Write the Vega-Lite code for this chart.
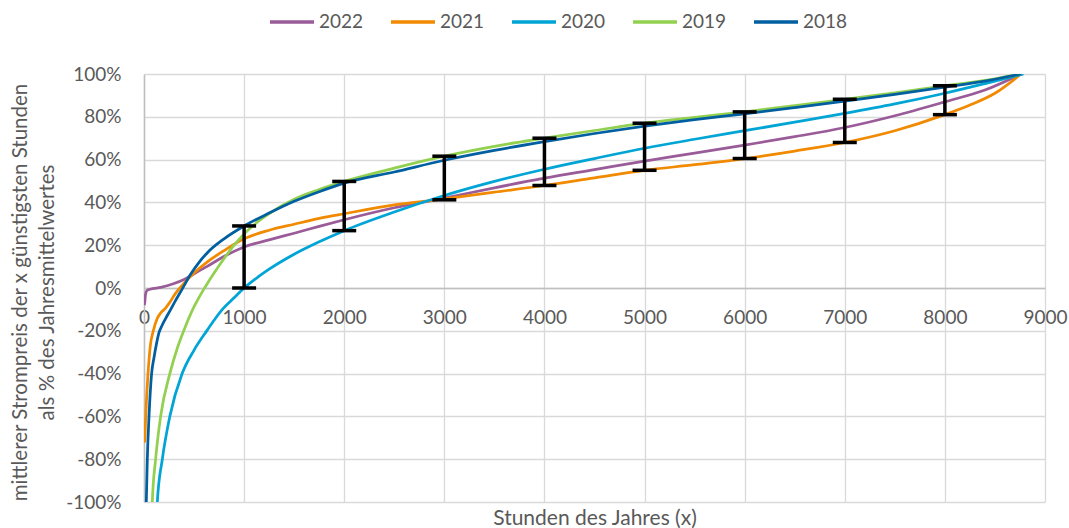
{
  "$schema": "https://vega.github.io/schema/vega-lite/v6.json",
  "width": 901,
  "height": 428,
  "autosize": {"type": "none"},
  "padding": {"left": 144, "top": 74, "right": 24, "bottom": 26},
  "background": "white",
  "config": {
    "view": {"stroke": null},
    "font": "Lato",
    "axis": {"labelFont": "Lato", "titleFont": "Lato"},
    "legend": {"labelFont": "Lato"}
  },
  "datasets": {
    "curves": [
      {"year": "2022", "x": 0, "y": -8}, {"year": "2022", "x": 7, "y": -7}, {"year": "2022", "x": 15, "y": -3}, {"year": "2022", "x": 30, "y": -1.2}, {"year": "2022", "x": 60, "y": -0.6}, {"year": "2022", "x": 167, "y": 0.3}, {"year": "2022", "x": 293, "y": 2}, {"year": "2022", "x": 400, "y": 4}, {"year": "2022", "x": 460, "y": 5.5}, {"year": "2022", "x": 550, "y": 8}, {"year": "2022", "x": 627, "y": 10}, {"year": "2022", "x": 793, "y": 14.6}, {"year": "2022", "x": 1000, "y": 19.2}, {"year": "2022", "x": 1250, "y": 22.5}, {"year": "2022", "x": 1500, "y": 25.6}, {"year": "2022", "x": 1750, "y": 28.8}, {"year": "2022", "x": 2000, "y": 31.9}, {"year": "2022", "x": 2500, "y": 37.5}, {"year": "2022", "x": 3000, "y": 42}, {"year": "2022", "x": 3500, "y": 46.8}, {"year": "2022", "x": 4000, "y": 51.3}, {"year": "2022", "x": 4500, "y": 55.3}, {"year": "2022", "x": 5000, "y": 59.3}, {"year": "2022", "x": 5500, "y": 63}, {"year": "2022", "x": 6000, "y": 66.8}, {"year": "2022", "x": 6500, "y": 70.7}, {"year": "2022", "x": 7000, "y": 75}, {"year": "2022", "x": 7500, "y": 80.5}, {"year": "2022", "x": 8000, "y": 87}, {"year": "2022", "x": 8400, "y": 92.5}, {"year": "2022", "x": 8760, "y": 100},
      {"year": "2021", "x": 0, "y": -72}, {"year": "2021", "x": 7, "y": -71.5}, {"year": "2021", "x": 17, "y": -60}, {"year": "2021", "x": 40, "y": -40}, {"year": "2021", "x": 63, "y": -27}, {"year": "2021", "x": 93, "y": -20}, {"year": "2021", "x": 130, "y": -14.5}, {"year": "2021", "x": 166, "y": -11.7}, {"year": "2021", "x": 213, "y": -9.5}, {"year": "2021", "x": 260, "y": -6.5}, {"year": "2021", "x": 315, "y": -2.5}, {"year": "2021", "x": 400, "y": 2.2}, {"year": "2021", "x": 500, "y": 7}, {"year": "2021", "x": 633, "y": 12.2}, {"year": "2021", "x": 800, "y": 17.5}, {"year": "2021", "x": 1000, "y": 23}, {"year": "2021", "x": 1250, "y": 27}, {"year": "2021", "x": 1500, "y": 29.8}, {"year": "2021", "x": 1750, "y": 32.5}, {"year": "2021", "x": 2000, "y": 34.7}, {"year": "2021", "x": 2500, "y": 38.8}, {"year": "2021", "x": 3000, "y": 41.6}, {"year": "2021", "x": 3500, "y": 44.8}, {"year": "2021", "x": 4000, "y": 47.9}, {"year": "2021", "x": 4500, "y": 51.5}, {"year": "2021", "x": 5000, "y": 55}, {"year": "2021", "x": 5500, "y": 57.6}, {"year": "2021", "x": 6000, "y": 60.5}, {"year": "2021", "x": 6500, "y": 64}, {"year": "2021", "x": 7000, "y": 68}, {"year": "2021", "x": 7500, "y": 73.5}, {"year": "2021", "x": 8000, "y": 81}, {"year": "2021", "x": 8250, "y": 85.5}, {"year": "2021", "x": 8500, "y": 91}, {"year": "2021", "x": 8760, "y": 100},
      {"year": "2020", "x": 120, "y": -118}, {"year": "2020", "x": 133, "y": -100}, {"year": "2020", "x": 183, "y": -80}, {"year": "2020", "x": 258, "y": -60}, {"year": "2020", "x": 381, "y": -40}, {"year": "2020", "x": 500, "y": -29}, {"year": "2020", "x": 630, "y": -19.8}, {"year": "2020", "x": 783, "y": -10}, {"year": "2020", "x": 900, "y": -4.6}, {"year": "2020", "x": 1000, "y": 0}, {"year": "2020", "x": 1143, "y": 5.3}, {"year": "2020", "x": 1250, "y": 8.8}, {"year": "2020", "x": 1500, "y": 15.8}, {"year": "2020", "x": 1750, "y": 21.6}, {"year": "2020", "x": 2000, "y": 26.8}, {"year": "2020", "x": 2500, "y": 35.5}, {"year": "2020", "x": 3000, "y": 43.2}, {"year": "2020", "x": 3500, "y": 49.8}, {"year": "2020", "x": 4000, "y": 55.5}, {"year": "2020", "x": 4500, "y": 60.5}, {"year": "2020", "x": 5000, "y": 65.3}, {"year": "2020", "x": 5500, "y": 69.5}, {"year": "2020", "x": 6000, "y": 73.5}, {"year": "2020", "x": 6500, "y": 77.5}, {"year": "2020", "x": 7000, "y": 81.6}, {"year": "2020", "x": 7500, "y": 86}, {"year": "2020", "x": 8000, "y": 91}, {"year": "2020", "x": 8400, "y": 95.5}, {"year": "2020", "x": 8784, "y": 100},
      {"year": "2019", "x": 72, "y": -118}, {"year": "2019", "x": 83, "y": -100}, {"year": "2019", "x": 116, "y": -80}, {"year": "2019", "x": 166, "y": -60}, {"year": "2019", "x": 258, "y": -40}, {"year": "2019", "x": 330, "y": -28.5}, {"year": "2019", "x": 397, "y": -20}, {"year": "2019", "x": 487, "y": -10}, {"year": "2019", "x": 547, "y": -4.6}, {"year": "2019", "x": 613, "y": 0.6}, {"year": "2019", "x": 700, "y": 7}, {"year": "2019", "x": 800, "y": 13.8}, {"year": "2019", "x": 900, "y": 20}, {"year": "2019", "x": 1000, "y": 25.3}, {"year": "2019", "x": 1143, "y": 31.2}, {"year": "2019", "x": 1250, "y": 34.8}, {"year": "2019", "x": 1500, "y": 41.5}, {"year": "2019", "x": 1750, "y": 46}, {"year": "2019", "x": 2000, "y": 49.8}, {"year": "2019", "x": 2500, "y": 56}, {"year": "2019", "x": 3000, "y": 61.6}, {"year": "2019", "x": 3500, "y": 66.2}, {"year": "2019", "x": 4000, "y": 70}, {"year": "2019", "x": 4500, "y": 73.6}, {"year": "2019", "x": 5000, "y": 77}, {"year": "2019", "x": 5500, "y": 79.7}, {"year": "2019", "x": 6000, "y": 82.3}, {"year": "2019", "x": 6500, "y": 85.2}, {"year": "2019", "x": 7000, "y": 88.2}, {"year": "2019", "x": 7500, "y": 91.2}, {"year": "2019", "x": 8000, "y": 94.5}, {"year": "2019", "x": 8400, "y": 97}, {"year": "2019", "x": 8760, "y": 100},
      {"year": "2018", "x": 15, "y": -118}, {"year": "2018", "x": 23, "y": -100}, {"year": "2018", "x": 33, "y": -80}, {"year": "2018", "x": 50, "y": -60}, {"year": "2018", "x": 76, "y": -40}, {"year": "2018", "x": 100, "y": -32.5}, {"year": "2018", "x": 125, "y": -26}, {"year": "2018", "x": 149, "y": -21}, {"year": "2018", "x": 180, "y": -17.5}, {"year": "2018", "x": 213, "y": -14.5}, {"year": "2018", "x": 267, "y": -10}, {"year": "2018", "x": 313, "y": -6}, {"year": "2018", "x": 381, "y": -0.5}, {"year": "2018", "x": 467, "y": 6.5}, {"year": "2018", "x": 550, "y": 12}, {"year": "2018", "x": 633, "y": 16.5}, {"year": "2018", "x": 800, "y": 23}, {"year": "2018", "x": 1000, "y": 29}, {"year": "2018", "x": 1250, "y": 35}, {"year": "2018", "x": 1500, "y": 40.5}, {"year": "2018", "x": 1750, "y": 45}, {"year": "2018", "x": 2000, "y": 49}, {"year": "2018", "x": 2500, "y": 54.2}, {"year": "2018", "x": 3000, "y": 59.7}, {"year": "2018", "x": 3500, "y": 64.3}, {"year": "2018", "x": 4000, "y": 68.4}, {"year": "2018", "x": 4500, "y": 72.2}, {"year": "2018", "x": 5000, "y": 75.6}, {"year": "2018", "x": 5500, "y": 78.7}, {"year": "2018", "x": 6000, "y": 81.4}, {"year": "2018", "x": 6500, "y": 84.3}, {"year": "2018", "x": 7000, "y": 87.3}, {"year": "2018", "x": 7500, "y": 90.5}, {"year": "2018", "x": 8000, "y": 93.9}, {"year": "2018", "x": 8400, "y": 96.7}, {"year": "2018", "x": 8760, "y": 100}
    ],
    "bars": [
      {"x": 1000, "lo": 0, "hi": 29},
      {"x": 2000, "lo": 26.8, "hi": 49.8},
      {"x": 3000, "lo": 41.2, "hi": 61.6},
      {"x": 4000, "lo": 47.9, "hi": 70},
      {"x": 5000, "lo": 55, "hi": 77},
      {"x": 6000, "lo": 60.5, "hi": 82.3},
      {"x": 7000, "lo": 68, "hi": 88.2},
      {"x": 8000, "lo": 81, "hi": 94.5}
    ]
  },
  "layer": [
    {
      "data": {"name": "curves"},
      "mark": {"type": "line", "strokeWidth": 2.75, "interpolate": "monotone", "clip": true},
      "encoding": {
        "x": {
          "field": "x", "type": "quantitative",
          "scale": {"domain": [0, 9000], "nice": false},
          "axis": {
            "values": [0, 1000, 2000, 3000, 4000, 5000, 6000, 7000, 8000, 9000],
            "format": "d", "offset": -214, "grid": true, "gridColor": "#d9d9d9", "gridWidth": 1.3,
            "domainColor": "#bfbfbf", "domainWidth": 1.5, "ticks": false,
            "labelFontSize": 19, "labelColor": "#595959", "labelPadding": 20,
            "labelFlush": false, "labelOverlap": false, "labelBound": false,
            "title": "Stunden des Jahres (x)", "titleFontSize": 21, "titleFontWeight": "normal",
            "titleColor": "#595959", "titleY": 236, "titleBaseline": "alphabetic"
          }
        },
        "y": {
          "field": "y", "type": "quantitative",
          "scale": {"domain": [-100, 100], "nice": false},
          "axis": {
            "values": [-100, -80, -60, -40, -20, 0, 20, 40, 60, 80, 100],
            "labelExpr": "datum.value + '%'", "grid": true, "gridColor": "#d9d9d9", "gridWidth": 1.3,
            "domainColor": "#bfbfbf", "domainWidth": 1.5, "ticks": false,
            "labelFontSize": 19, "labelColor": "#595959", "labelPadding": 23,
            "labelFlush": false, "labelOverlap": false, "labelBound": false,
            "title": ["mittlerer Strompreis  der x günstigsten Stunden", "als % des Jahresmittelwertes"],
            "titleFontSize": 20.5, "titleFontWeight": "normal", "titleColor": "#595959",
            "titleLineHeight": 27, "titleX": -124, "titleY": 218, "titleAngle": -90,
            "titleAlign": "center", "titleBaseline": "middle"
          }
        },
        "color": {
          "field": "year", "type": "nominal",
          "scale": {"domain": ["2022", "2021", "2020", "2019", "2018"], "range": ["#9A5B99", "#F18A00", "#00A5D6", "#92D050", "#005FA0"]},
          "legend": {
            "orient": "none", "legendX": 124, "legendY": -76, "direction": "horizontal", "title": null,
            "symbolType": "stroke", "symbolSize": 1936, "symbolStrokeWidth": 3.5,
            "labelFontSize": 19, "labelColor": "#595959", "labelOffset": 3, "columnPadding": 20, "padding": 0
          }
        }
      }
    },
    {
      "data": {"name": "bars"},
      "mark": {"type": "rule", "color": "black", "strokeWidth": 3.5},
      "encoding": {
        "x": {"field": "x", "type": "quantitative"},
        "y": {"field": "lo", "type": "quantitative"},
        "y2": {"field": "hi"}
      }
    },
    {
      "data": {"name": "bars"},
      "mark": {"type": "tick", "orient": "horizontal", "color": "black", "size": 24, "thickness": 3.5, "opacity": 1},
      "encoding": {
        "x": {"field": "x", "type": "quantitative"},
        "y": {"field": "lo", "type": "quantitative"}
      }
    },
    {
      "data": {"name": "bars"},
      "mark": {"type": "tick", "orient": "horizontal", "color": "black", "size": 24, "thickness": 3.5, "opacity": 1},
      "encoding": {
        "x": {"field": "x", "type": "quantitative"},
        "y": {"field": "hi", "type": "quantitative"}
      }
    }
  ]
}
